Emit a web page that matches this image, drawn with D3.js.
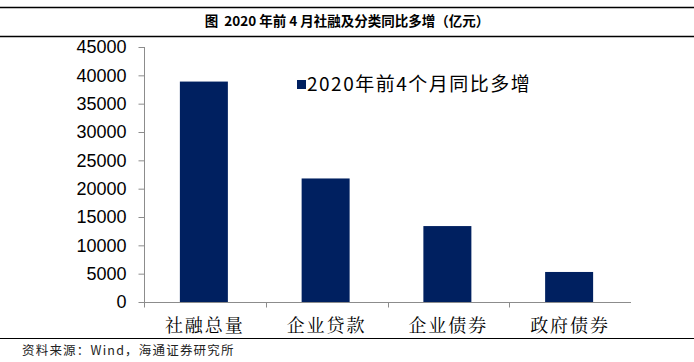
<!DOCTYPE html>
<html>
<head>
<meta charset="utf-8">
<script src="https://cdn.jsdelivr.net/npm/d3@7"></script>
<style>
  body { margin: 0; background: #fff; }
  svg { display: block; }
</style>
</head>
<body>
<svg id="chart" width="694" height="362"></svg>
<script>
// data
const categories = ['社融总量', '企业贷款', '企业债券', '政府债券'];
const values = [38900, 21800, 13400, 5300];
const yTicks = [0, 5000, 10000, 15000, 20000, 25000, 30000, 35000, 40000, 45000];
const seriesName = '2020年前4个月同比多增';
const titleText = '图  2020 年前 4 月社融及分类同比多增（亿元）';
const sourceText = '资料来源：Wind，海通证券研究所';

const width = 694, height = 362;
const svg = d3.select('#chart');
const barColour = '#002060';
const axisColour = '#8c8c8c';
const cjk = '"Noto Sans CJK SC", sans-serif';

// frame lines + title
svg.append('line').attr('x1', 0).attr('x2', width).attr('y1', 7.5).attr('y2', 7.5)
    .attr('stroke', '#000').attr('stroke-width', 1.5);
svg.append('line').attr('x1', 0).attr('x2', width).attr('y1', 36.5).attr('y2', 36.5)
    .attr('stroke', '#000').attr('stroke-width', 1.5);
svg.append('text')
    .attr('x', width / 2).attr('y', 26)
    .attr('text-anchor', 'middle')
    .style('font-family', cjk)
    .style('font-weight', 'bold')
    .style('font-size', '13.5px')
    .style('white-space', 'pre')
    .text(titleText);

// scales
const x = d3.scaleBand().domain(categories).range([144, 631]).paddingInner(0).paddingOuter(0);
const y = d3.scaleLinear().domain([0, 45000]).range([302, 47]);
const barW = 48;

const g = svg.append('g');

// bars
g.append('g').selectAll('rect')
    .data(values)
    .enter()
      .append('rect')
      .attr('x', (d, i) => x(categories[i]) + x.bandwidth() / 2 - barW / 2 - 1)
      .attr('y', d => y(d))
      .attr('width', barW)
      .attr('height', d => y(0) - y(d))
      .attr('fill', barColour);

// y axis
const yAxis = g.append('g')
    .attr('transform', 'translate(144.5,0)')
    .call(d3.axisLeft(y).tickValues(yTicks).tickSize(6).tickPadding(12).tickFormat(d3.format('d')));
yAxis.select('.domain').attr('stroke', axisColour).attr('d', 'M0,' + y(45000) + 'V' + y(0));
yAxis.selectAll('.tick line').attr('stroke', axisColour);
yAxis.selectAll('.tick text')
    .attr('fill', '#000')
    .style('font-family', '"Liberation Sans", Arial, sans-serif')
    .style('font-size', '18px');

// x axis
const xAxis = g.append('g')
    .attr('transform', 'translate(0,302.5)');
xAxis.append('line')
    .attr('x1', x.range()[0]).attr('x2', x.range()[1])
    .attr('stroke', axisColour);
xAxis.selectAll('line.tk')
    .data(categories)
    .enter()
      .append('line')
      .attr('class', 'tk')
      .attr('x1', d => Math.round(x(d)) + 0.5)
      .attr('x2', d => Math.round(x(d)) + 0.5)
      .attr('y1', 0).attr('y2', 5)
      .attr('stroke', axisColour);
xAxis.selectAll('text')
    .data(categories)
    .enter()
      .append('text')
      .attr('x', d => x(d) + x.bandwidth() / 2)
      .attr('y', 29)
      .attr('text-anchor', 'middle')
      .style('font-family', '"Noto Serif CJK SC", "Noto Sans CJK SC", serif')
      .style('font-size', '18px')
      .style('letter-spacing', '2px')
      .text(d => d);

// legend
const legend = svg.append('g').attr('transform', 'translate(297,77)');
legend.append('rect').attr('width', 9).attr('height', 9).attr('y', 3).attr('fill', barColour);
legend.append('text')
    .attr('x', 10).attr('y', 14)
    .style('font-family', cjk)
    .style('font-size', '19px')
    .style('letter-spacing', '1.5px')
    .text(seriesName);

// bottom rule + source
svg.append('line').attr('x1', 0).attr('x2', width).attr('y1', 338.5).attr('y2', 338.5)
    .attr('stroke', '#000').attr('stroke-width', 1.2);
svg.append('text')
    .attr('x', 22).attr('y', 355)
    .style('font-family', cjk)
    .style('font-size', '12.5px')
    .style('letter-spacing', '1.2px')
    .attr('fill', '#222')
    .text(sourceText);
</script>
</body>
</html>
